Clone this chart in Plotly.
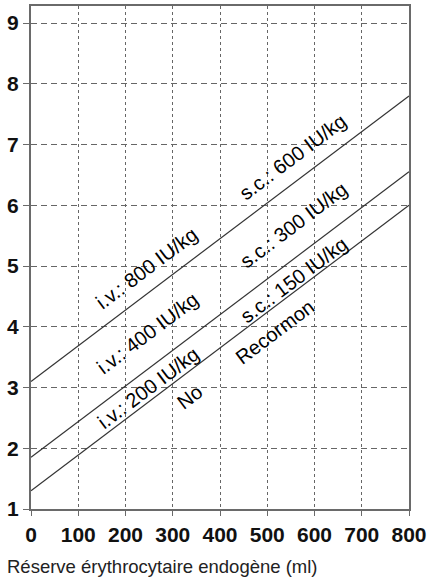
import plotly.graph_objects as go

# Data
x_vals = [0, 800]
line_high = [3.1, 7.8]     # i.v. 800 / s.c. 600 IU/kg
line_mid = [1.85, 6.55]    # i.v. 400 / s.c. 300 IU/kg
line_low = [1.3, 6.0]      # i.v. 200 / s.c. 150 IU/kg
x_ticks = [0, 100, 200, 300, 400, 500, 600, 700, 800]
y_ticks = [1, 2, 3, 4, 5, 6, 7, 8, 9]

label_texts = ["i.v.: 800 IU/kg", "i.v.: 400 IU/kg", "i.v.: 200 IU/kg", "No",
               "s.c.: 600 IU/kg", "s.c.: 300 IU/kg", "s.c.: 150 IU/kg", "Recormon"]
label_x = [245, 247, 248, 336, 554, 556, 556, 516]
label_y = [4.97, 3.90, 2.99, 2.84, 6.79, 5.67, 4.77, 3.91]

x_title = "Réserve érythrocytaire endogène (ml)"

FONT = "Liberation Sans, Arial, Helvetica"

fig = go.Figure()
for ys in (line_high, line_mid, line_low):
    fig.add_trace(go.Scatter(x=x_vals, y=ys, mode="lines",
                             line=dict(color="#333333", width=1.2),
                             showlegend=False, hoverinfo="skip"))

for t, xx, yy in zip(label_texts, label_x, label_y):
    fig.add_annotation(x=xx, y=yy, text=t, showarrow=False, textangle=-37,
                       font=dict(family=FONT, size=20, color="#000000"),
                       xanchor="center", yanchor="middle")

fig.add_annotation(x=-0.069, xref="paper", y=-0.115, yref="paper", text=x_title,
                   showarrow=False, xanchor="left", yanchor="middle",
                   font=dict(family=FONT, size=18.5, color="#222222"))

fig.update_layout(
    width=433, height=580,
    margin=dict(l=31, r=24, t=6, b=71, autoexpand=False),
    paper_bgcolor="white", plot_bgcolor="white",
    showlegend=False,
)
fig.update_xaxes(range=[0, 800], tickvals=x_ticks, ticktext=[str(v) for v in x_ticks],
                 automargin=False,
                 showline=True, linecolor="#6a6a6a", linewidth=2, mirror=True,
                 ticks="outside", ticklen=5, tickcolor="#6a6a6a",
                 ticklabelstandoff=1,
                 showgrid=True, gridcolor="#666666", gridwidth=1, griddash="3px,3px",
                 zeroline=False,
                 tickfont=dict(family=FONT, size=21, color="#111111", weight="bold"))
fig.update_yaxes(range=[1, 9.28], tickvals=y_ticks, ticktext=[str(v) for v in y_ticks],
                 automargin=False,
                 showline=True, linecolor="#6a6a6a", linewidth=2, mirror=True,
                 ticks="outside", ticklen=6, tickcolor="#6a6a6a",
                 showgrid=True, gridcolor="#666666", gridwidth=1, griddash="6px,4px",
                 zeroline=False,
                 tickfont=dict(family=FONT, size=21, color="#111111", weight="bold"))

fig.write_html("out.html", config={"displayModeBar": False},
               post_script="document.body.style.margin='0';")
